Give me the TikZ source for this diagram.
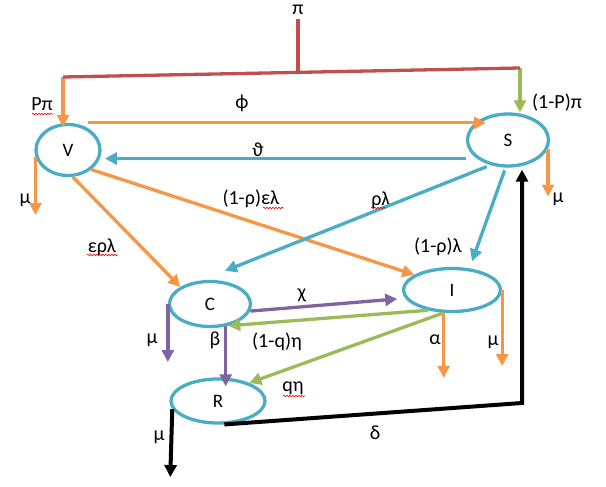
\documentclass[tikz,border=0pt]{standalone}
\usepackage{fontspec}
\setmainfont{Carlito}
\usetikzlibrary{arrows.meta, shapes.geometric, decorations.pathmorphing}
\definecolor{offorange}{HTML}{F79646}
\definecolor{offblue}{HTML}{4BACC6}
\definecolor{offgreen}{HTML}{9BBB59}
\definecolor{offpurple}{HTML}{8064A2}
\definecolor{offred}{HTML}{C0504D}

\begin{document}
\begin{tikzpicture}[x=1pt, y=-1pt,
	cmp/.style={ellipse, draw=offblue, line width=3.3pt, inner sep=0pt, font=\fontsize{19}{19}\selectfont},
	flw/.style={line width=3.3pt, -{Triangle[length=12pt, width=12pt]}},
	redln/.style={offred, line width=3.3pt},
	lbl/.style={inner sep=0pt, font=\fontsize{20}{20}\selectfont},
	squig/.style={red, line width=0.6pt, decorate, decoration={snake, amplitude=0.8pt, segment length=3pt}},
	]
		\useasboundingbox (0,0) rectangle (606,487);

		%Nodes
		\node[cmp, minimum width=64, minimum height=51] (V) at (68,150)  {V};
		\node[cmp, minimum width=81, minimum height=52] (S) at (508,140) {S};
		\node[cmp, minimum width=81, minimum height=45] (C) at (210,304) {C};
		\node[cmp, minimum width=97, minimum height=43] (I) at (452,290) {I};
		\node[cmp, minimum width=94, minimum height=44] (R) at (218,401) {R};

		\coordinate (pv) at (63,77);
		\coordinate (ps) at (520,68);
		\coordinate (jn) at (298,72.4);
		\coordinate (dc) at (522,403);

		%Labels
		\node[lbl] (pi)   at (298,10)  {π};
		\node[lbl] (Ppi)  at (42,104)  {Pπ};
		\node[lbl] (phi)  at (242,103) {ϕ};
		\node[lbl] (vth)  at (258,150) {ϑ};
		\node[lbl] (muV)  at (25,200)  {μ};
		\node[lbl] (qpi)  at (557,103) {(1-P)π};
		\node[lbl] (muS)  at (558,199) {μ};
		\node[lbl] (rl)   at (381,200) {ρλ};
		\node[lbl] (erl)  at (102,247) {ερλ};
		\node[lbl] (rel)  at (251,199) {(1-ρ)ελ};
		\node[lbl] (qrl)  at (438,247) {(1-ρ)λ};
		\node[lbl] (chi)  at (302,295) {χ};
		\node[lbl] (muC)  at (152,340) {μ};
		\node[lbl] (bet)  at (215,340) {β};
		\node[lbl] (qeta) at (277,342) {(1-q)η};
		\node[lbl] (alp)  at (435,340) {α};
		\node[lbl] (muI)  at (493,342) {μ};
		\node[lbl] (qe)   at (293,388) {qη};
		\node[lbl] (muR)  at (159,437) {μ};
		\node[lbl] (del)  at (375,433) {δ};

		%Lines
		\draw[flw, offorange] (pv) -- ([yshift=-4pt]pv |- V.north);
		\draw[flw, offgreen] (ps) -- (ps |- S.north);
		\draw[redln] (pv) -- (ps);
		\draw[redln] ([yshift=-4pt]pi.south) -- (pi.south |- jn);

		\draw[flw, offorange] ([xshift=20pt]V.north) -- ([xshift=20pt]V.north -| S.west);
		\draw[flw, offblue, shorten >=5pt] (S.west |- V.-15) -- (V.-15);
		\draw[flw, offorange] (V.-168) -- ++(0,58);
		\draw[flw, offorange] (S.-12) -- ++(0,48);

		\draw[flw, offorange] (V.-80) -- (C.150);
		\draw[flw, offorange] (V.-40) -- (I.158);
		\draw[flw, offblue, shorten <=4pt] (S.-125) -- ([xshift=15pt, yshift=9pt]C.north);
		\draw[flw, offblue, shorten <=3pt, shorten >=6pt] (S.-95) -- ([xshift=18pt]I.north);

		\draw[flw, offpurple, shorten >=8pt] (C.-10) -- (I.190);
		\draw[flw, offgreen] (I.-140) -- (C.-50);
		\draw[flw, offgreen] (I.-110) -- (R.30);
		\draw[flw, offpurple] (C.west) -- ++(0,58);
		\draw[flw, offpurple] (C.-55) -- ([yshift=-9pt]C.-55 |- R.north);
		\draw[flw, offorange] (I.-110) -- ++(0,65);
		\draw[flw, offorange] (I.east) -- ++(0,76);

		\draw[flw, line width=4pt] (R.-170) -- ++(-2,68);
		\draw[flw, line width=4pt, shorten >=2pt] (R.-75) -- (dc) -- (dc |- S.south);

		%Spelling marks
		\draw[squig] (32,114) -- (53,114);
		\draw[squig] (263,208) -- (284,208);
		\draw[squig] (371,208) -- (385,208);
		\draw[squig] (87,255) -- (118,255);
		\draw[squig] (283,396) -- (305,396);
	\end{tikzpicture}
\end{document}
